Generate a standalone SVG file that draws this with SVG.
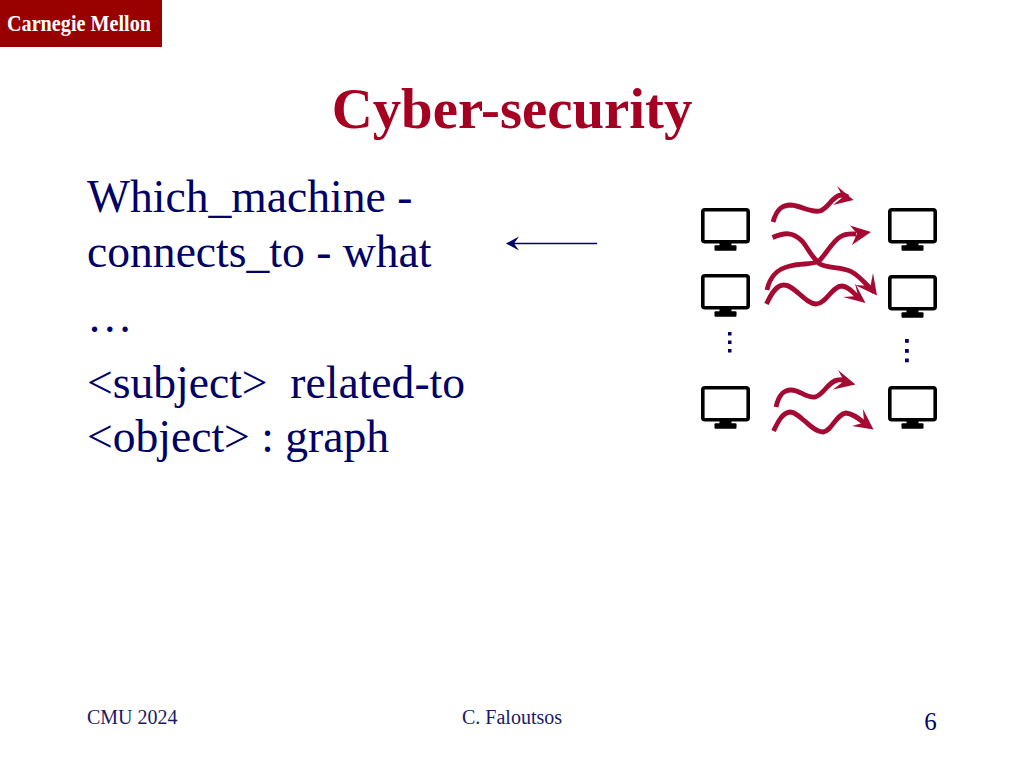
<svg xmlns="http://www.w3.org/2000/svg" xmlns:xlink="http://www.w3.org/1999/xlink" width="1024" height="768" viewBox="0 0 1024 768">
<style>
text{font-family:"Liberation Serif","Times New Roman",serif}
.body{font-size:45.6px;fill:#000066}
.foot{font-size:20px;fill:#1a1a66}
.curve{fill:none;stroke:#a50a32;stroke-width:4.8;stroke-linecap:butt;stroke-linejoin:round}
.head{fill:#a50a32;stroke:none}
.dot{fill:#000066}
</style>
<defs>
<g id="monitor">
<rect x="1.8" y="1.8" width="45.4" height="32" rx="2" fill="none" stroke="#000" stroke-width="3.6"/>
<rect x="18.5" y="34" width="12" height="6" fill="#000"/>
<rect x="13.5" y="37.3" width="22" height="5.5" rx="1" fill="#000"/>
</g>
</defs>
<rect width="1024" height="768" fill="#fff"/>
<g id="logo">
<rect x="0" y="0" width="162" height="47" fill="#990000"/>
<text x="7" y="31" font-size="24" font-weight="bold" fill="#fff" textLength="144" lengthAdjust="spacingAndGlyphs">Carnegie Mellon</text>
</g>
<text id="title" x="512" y="127.5" font-size="56.8" font-weight="bold" fill="#a50021" text-anchor="middle">Cyber-security</text>
<g id="body-text">
<text class="body" x="87" y="212">Which_machine -</text>
<text class="body" x="87" y="267">connects_to - what</text>
<text class="body" x="87" y="332">…</text>
<text class="body" x="87" y="398" xml:space="preserve">&lt;subject&gt;  related-to</text>
<text class="body" x="87" y="452">&lt;object&gt; : graph</text>
</g>
<g id="footer">
<text class="foot" x="87" y="724">CMU 2024</text>
<text class="foot" x="512" y="724" text-anchor="middle">C. Faloutsos</text>
<text x="930.5" y="730" font-size="25" fill="#000066" text-anchor="middle">6</text>
</g>
<g id="monitor-1"><use xlink:href="#monitor" href="#monitor" x="701" y="208"/></g>
<g id="monitor-2"><use xlink:href="#monitor" href="#monitor" x="701" y="274"/></g>
<g id="monitor-3"><use xlink:href="#monitor" href="#monitor" x="701" y="386"/></g>
<g id="monitor-4"><use xlink:href="#monitor" href="#monitor" x="888" y="208"/></g>
<g id="monitor-5"><use xlink:href="#monitor" href="#monitor" x="888" y="275"/></g>
<g id="monitor-6"><use xlink:href="#monitor" href="#monitor" x="888" y="386"/></g>
<g id="ellipsis-left">
<rect class="dot" x="728" y="332" width="3.5" height="3.5"/><rect class="dot" x="728" y="340.5" width="3.5" height="3.5"/><rect class="dot" x="728" y="349" width="3.5" height="3.5"/>
</g>
<g id="ellipsis-right">
<rect class="dot" x="905" y="339" width="3.8" height="3.8"/><rect class="dot" x="905" y="349" width="3.8" height="3.8"/><rect class="dot" x="905" y="358.5" width="3.8" height="3.8"/>
</g>
<g id="connectors">
<g id="pointer">
<line x1="597" y1="243.5" x2="512" y2="243.5" stroke="#000066" stroke-width="1.6"/>
<polygon points="506,243.5 519,236.5 514,243.5 519,250.5" fill="#000066"/>
</g>
<path class="curve" d="M773,222 C777,208 783,205 791,205 C802,206 810,213 820,211 C829,208 832,196 841,195 C844,195 846,196 848,197"/>
<polygon class="head" points="853.5,200 837,186 843,197 833,205"/>
<path class="curve" d="M772.5,237.5 C785,232 793,232 802,241 C808,248 812,258 820,264 C828,269 842,266 852,272 C861,277 868,287 874,292"/>
<polygon class="head" points="877,295.5 873,273 870.5,286 855,285"/>
<path class="curve" d="M767,290 C770,276 777,269 790,266 C802,263 812,265 819,261 C827,253 832,242 840,237 C846,233 850,234 856,234"/>
<polygon class="head" points="871,232 850,225.5 857,233.5 852,245"/>
<path class="curve" d="M766.5,304 C771,294 776,285 784,285 C795,285 805,304 816,304 C826,304 832,286 842,286 C850,287 853,293 859,298"/>
<polygon class="head" points="865.5,303 855,283 858,296 843,297"/>
<path class="curve" d="M776,407 C779,394 784,390 791,390 C800,390 806,398 815,397 C824,395 828,381 838,380 C843,379 846,381 848,382"/>
<polygon class="head" points="855.5,384.5 838,370 844,381 833,389.5"/>
<path class="curve" d="M773.5,431 C778,422 782,413 790,412 C800,412 811,432 823,432 C832,431 836,414 846,413 C855,414 860,420 868,426"/>
<polygon class="head" points="873.5,429.5 863,409 864,422.5 852,426"/>
</g>
</svg>
